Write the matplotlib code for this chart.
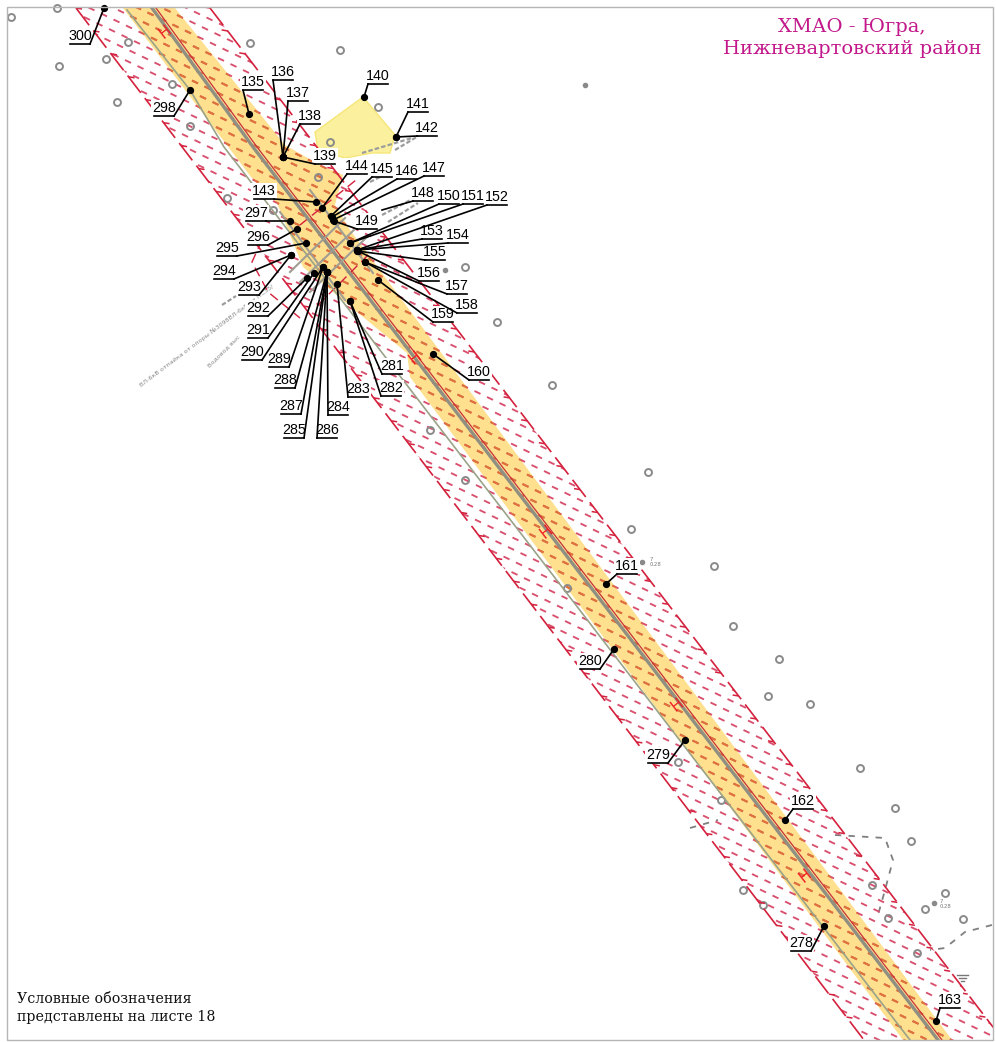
import numpy as np
import matplotlib
matplotlib.use('Agg')
import matplotlib.pyplot as plt
from matplotlib.collections import LineCollection
from matplotlib.patches import Polygon, Rectangle

W, H = 996, 1042

# all positions, in sheet pixels
frame = [7, 7, 993, 1040]

band_red = [(76, 8), (210, 8), (1003, 1040), (864, 1040)]
band_yellow = [(123, 8), (175, 8), (285, 145), (320, 165), (343, 175), (335, 205),
               (350, 230), (952, 1040), (903, 1040), (410, 377), (407, 353),
               (363, 317), (303, 267), (277, 203), (251, 177)]
plot_140 = [(315, 132), (363, 97), (395, 135), (390, 153), (372, 153), (345, 158), (318, 150)]

line_main = [(152, 8), (253, 147), (938, 1040)]
line_red = [(156, 8), (257, 147), (942, 1040)]
line_left = [(127, 10), (190, 90), (224, 147), (910, 1040)]

crossing_lines = [[(310, 190), (373, 273)], [(280, 212), (345, 300)], [(290, 272), (345, 218)],
                  [(300, 282), (358, 226)], [(310, 292), (368, 236)]]
crossing_red = [[(262, 240), (252, 262), (268, 292), (300, 318)],
                [(300, 225), (356, 180)], [(318, 305), (385, 238)]]

ground_x = [59, 11, 57, 106, 117, 250, 172, 190, 128, 340, 552, 648, 631, 714, 733, 779, 768,
            810, 860, 895, 911, 872, 743, 945, 925, 963, 430, 465, 567, 678, 721, 763, 888, 917,
            378, 330, 465, 318, 497, 273, 227]
ground_y = [66, 17, 8, 59, 102, 43, 84, 126, 42, 50, 385, 472, 529, 566, 626, 659, 696,
            704, 768, 808, 841, 885, 890, 893, 909, 919, 430, 480, 588, 762, 800, 905, 918, 953,
            107, 142, 267, 177, 322, 210, 198]
dot_x = [642, 934, 585, 445]
dot_y = [562, 903, 85, 270]

dash_paths = [[(835, 835), (885, 838), (893, 860), (885, 890), (878, 915)],
              [(992, 925), (965, 932), (945, 948), (930, 950)],
              [(690, 828), (718, 820)]]
earth_marks = [[(957, 975), (968, 975)], [(959, 978), (966, 978)], [(961, 981), (964, 981)]]

h_x = [165, 415, 546, 677, 805]
h_y = [32, 358, 532, 705, 876]

label_names = ['135', '136', '137', '138', '139', '140', '141', '142', '143', '144', '145', '146',
               '147', '148', '149', '150', '151', '152', '153', '154', '155', '156', '157', '158',
               '159', '160', '161', '162', '163', '278', '279', '280', '281', '282', '283', '284',
               '285', '286', '287', '288', '289', '290', '291', '292', '293', '294', '295', '296',
               '297', '298', '300']
label_x = [253, 283, 298, 310, 325, 378, 418, 427, 264, 357, 382, 407,
           434, 423, 367, 449, 473, 497, 432, 458, 435, 429, 457, 467,
           443, 479, 627, 803, 950, 801, 658, 590, 392, 391, 358, 338,
           294, 327, 291, 285, 279, 252, 258, 258, 249, 224, 227, 258,
           256, 164, 80]
label_y = [82, 72, 93, 116, 156, 76, 104, 128, 191, 166, 169, 171,
           168, 193, 221, 196, 196, 197, 231, 235, 252, 273, 286, 305,
           314, 372, 566, 801, 1000, 943, 755, 661, 366, 388, 389, 407,
           430, 430, 406, 380, 359, 352, 330, 308, 287, 271, 248, 237,
           213, 108, 36]
marker_x = [249, 283, 283, 283, 283, 364, 396, 396, 316, 322, 331, 332,
            333, 382, 334, 350, 350, 357, 357, 357, 357, 358, 365, 365,
            378, 433, 606, 785, 936, 824, 685, 614, 350, 350, 337, 327,
            327, 327, 327, 327, 323, 323, 314, 307, 291, 291, 306, 297,
            290, 190, 104]
marker_y = [114, 157, 157, 157, 157, 97, 137, 137, 202, 208, 216, 217,
            220, 210, 221, 243, 243, 250, 250, 250, 251, 251, 262, 262,
            280, 354, 584, 820, 1021, 926, 740, 649, 301, 301, 284, 272,
            272, 272, 272, 272, 267, 267, 273, 278, 255, 255, 243, 229,
            221, 90, 8]
# which end of the underline the leader leaves from
label_side = ['l'] * 8 + ['r'] + ['l'] * 20 + ['r', 'r', 'r'] + ['l'] * 4 + ['r', 'l'] + ['r'] * 13

title_lines = 'ХМАО - Югра,\nНижневартовский район'
legend_lines = 'Условные обозначения\nпредставлены на листе 18'

fig = plt.figure(figsize=(W / 100, H / 100), dpi=100)
ax = fig.add_axes([0, 0, 1, 1])
ax.set_xlim(0, W)
ax.set_ylim(H, 0)
ax.axis('off')

clip = Rectangle((frame[0], frame[1]), frame[2] - frame[0], frame[3] - frame[1], transform=ax.transData)

ax.add_patch(Polygon(plot_140, closed=True, fc='#fbf09e', ec='#f6e678', lw=1, zorder=1))
yellow = Polygon(band_yellow, closed=True, fc='#fee08f', ec='none', zorder=2)
ax.add_patch(yellow)
yellow.set_clip_path(clip)

# hatch texture of the protected strip, redrawn in orange over the yellow part
hatch_area = Polygon(band_red, closed=True, transform=ax.transData)
yellow_area = Polygon(band_yellow, closed=True, transform=ax.transData)
segs = []
for i in range(-60, 170):
    for j in range(-10, 130):
        x0 = 12.5 * i - 4.5 * j
        y0 = 6.0 * i + 9.5 * j
        segs.append([(x0, y0), (x0 + 6.0, y0 + 2.9)])
hatch = LineCollection(segs, colors='#d9506f', linewidths=1.35, capstyle='butt', zorder=3)
ax.add_collection(hatch)
hatch.set_clip_path(hatch_area)
hatch2 = LineCollection(segs, colors='#de7238', linewidths=1.45, capstyle='butt', zorder=3.2)
ax.add_collection(hatch2)
hatch2.set_clip_path(yellow_area)

# strip borders: long dashes with a small barb on each
barbs = []
for edge, dx, dy in [((band_red[0], band_red[3]), 6, 1), ((band_red[1], band_red[2]), -6, -1)]:
    (x0, y0), (x1, y1) = edge
    ln, = ax.plot([x0, x1], [y0, y1], color='#d4213d', lw=1.2, dashes=(13, 4), zorder=4)
    ln.set_clip_path(clip)
    n = int(np.hypot(x1 - x0, y1 - y0) / 28.3)
    for t in np.arange(n) / n:
        px, py = x0 + t * (x1 - x0), y0 + t * (y1 - y0)
        barbs.append([(px, py), (px + dx, py + dy)])
barb_lines = LineCollection(barbs, colors='#d4213d', linewidths=1.1, zorder=4)
ax.add_collection(barb_lines)
barb_lines.set_clip_path(clip)

for pts, col, lw in [(line_left, '#9aa388', 1.2), (line_main, '#8f8f82', 2.4), (line_red, '#c8303a', 0.9)]:
    arr = np.array(pts)
    ln, = ax.plot(arr[:, 0], arr[:, 1], color=col, lw=lw, zorder=5)
    ln.set_clip_path(clip)

for pts in crossing_lines:
    arr = np.array(pts)
    ax.plot(arr[:, 0], arr[:, 1], color='#a09d92', lw=1.5, zorder=5)
for pts in crossing_red:
    arr = np.array(pts)
    ax.plot(arr[:, 0], arr[:, 1], color='#d4213d', lw=1, dashes=(7, 4), zorder=4)

for pts in dash_paths:
    arr = np.array(pts)
    ax.plot(arr[:, 0], arr[:, 1], color='#7f7f7f', lw=1.3, dashes=(3.5, 4), zorder=2)
for pts in earth_marks:
    arr = np.array(pts)
    ax.plot(arr[:, 0], arr[:, 1], color='#777777', lw=1, zorder=2)

ax.plot(ground_x, ground_y, 'o', ms=5, mfc='none', mec='#8a8a8a', mew=1.4, zorder=3.5)
ax.plot(dot_x, dot_y, 'o', ms=3, color='#8a8a8a', zorder=2.5)
ax.text(650, 562, '7\n0.28', fontsize=3.8, color='#777777', ha='left', va='center', zorder=2)
ax.text(940, 904, '7\n0.28', fontsize=3.8, color='#777777', ha='left', va='center', zorder=2)

# grey drawing marks and captions near the crossing
for pts in [[(362, 153), (412, 138)], [(395, 150), (425, 132)], [(382, 215), (420, 195)],
            [(388, 222), (418, 203)], [(370, 182), (390, 172)], [(222, 305), (236, 296)]]:
    arr = np.array(pts)
    ax.plot(arr[:, 0], arr[:, 1], color='#9c9c9c', lw=1.6, dashes=(2, 1), zorder=2)
ax.text(140, 386, 'ВЛ-6кВ отпайка от опоры №3098ВЛ-6кВ от ПС35/', fontsize=4.6, color='#8a8a8a',
        rotation=37, rotation_mode='anchor', ha='left', va='center', zorder=2)
ax.text(208, 366, 'Водовод выс', fontsize=4.6, color='#8a8a8a', rotation=45,
        rotation_mode='anchor', ha='left', va='center', zorder=2)

for x, y in zip(h_x, h_y):
    ax.text(x, y, 'Н', color='#ee1c25', fontsize=11, rotation=38, ha='center', va='center', zorder=6)

for name, tx, ty, mx, my, side in zip(label_names, label_x, label_y, marker_x, marker_y, label_side):
    ax.text(tx, ty, name, family='Liberation Sans', fontsize=10.3,
            color='black', ha='center', va='center', zorder=7,
            bbox=dict(fc='white', ec='none', pad=0.5))
    uy = ty + 8
    ax.plot([tx - 10, tx + 10], [uy, uy], color='black', lw=1.2, zorder=8)
    sx = tx - 10 if side == 'l' else tx + 10
    ax.plot([sx, mx], [uy, my], color='black', lw=1.2, zorder=8)
    if name != '148':
        ax.plot(mx, my, 'o', color='black', ms=4.2, zorder=9)

ax.add_patch(Rectangle((frame[0], frame[1]), frame[2] - frame[0], frame[3] - frame[1],
                       fc='none', ec='#b5b5b5', lw=1, zorder=10))

ax.text(852, 38, title_lines, family='DejaVu Serif', fontsize=14, color='#c2188b', ha='center',
        va='center', linespacing=1.3, zorder=11,
        bbox=dict(fc='white', ec='none', pad=2))
ax.text(17, 1008, legend_lines, family='DejaVu Serif', fontsize=10.3, color='#111111', ha='left',
        va='center', linespacing=1.35, zorder=11)

fig.savefig('out.png', dpi=100, facecolor='white')
